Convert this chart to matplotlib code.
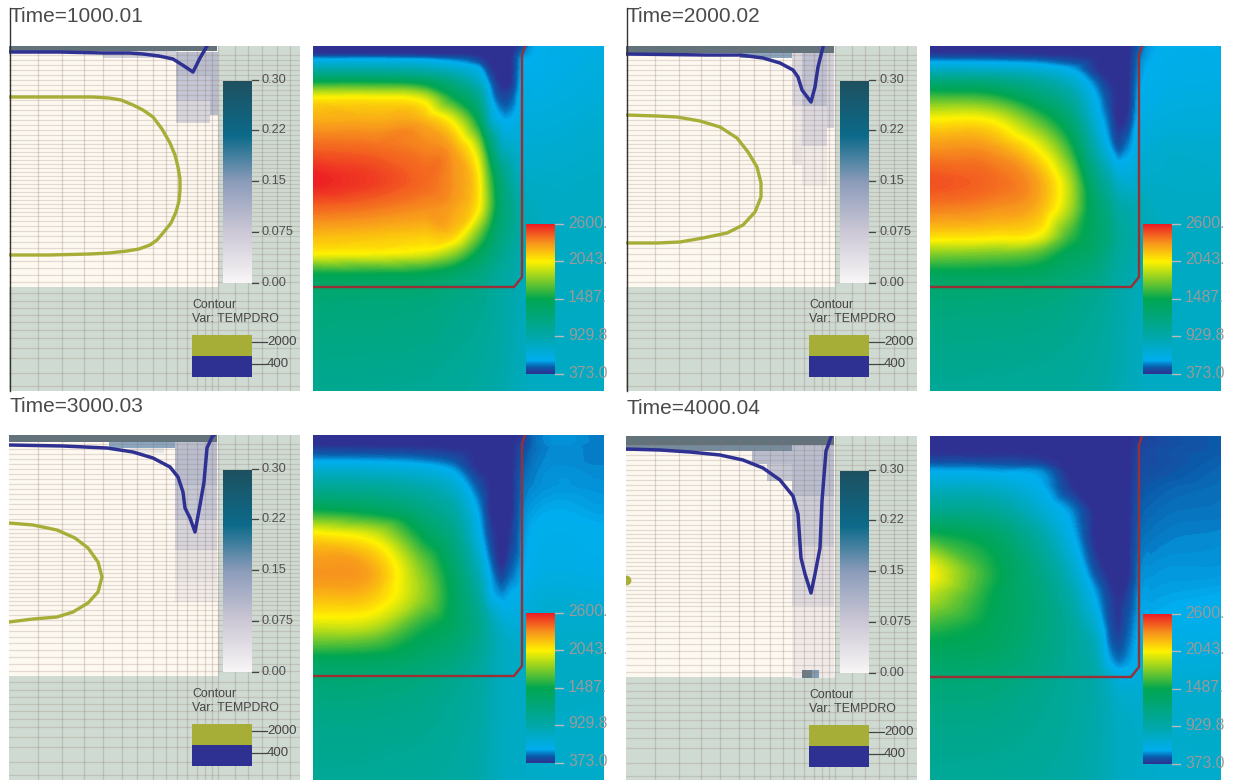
import matplotlib
matplotlib.use('Agg')
import matplotlib.pyplot as plt
import matplotlib.tri as mtri
from matplotlib.colors import LinearSegmentedColormap, Normalize
from matplotlib.patches import Rectangle
import numpy as np

plt.rcParams['font.family'] = ['Liberation Sans', 'DejaVu Sans']

W, H = 1234, 780

# 网格位置
temp_x = [0, 60, 110, 140, 165, 178, 188, 198, 210, 222, 291]
temp_y = [0, 8, 14, 24, 36, 52, 75, 100, 135, 160, 190, 207, 228, 245, 290, 345]

# one list per temp_x column, top to bottom
temp_1000 = [
    [373, 400, 600, 950, 1487, 2043, 2250, 2420, 2590, 2440, 2200, 2043, 1487, 1300, 1180, 1080],
    [373, 400, 600, 950, 1487, 2043, 2250, 2400, 2520, 2400, 2180, 2030, 1480, 1290, 1170, 1070],
    [373, 390, 580, 900, 1400, 1950, 2230, 2350, 2420, 2340, 2150, 1980, 1450, 1270, 1150, 1050],
    [373, 385, 520, 780, 1150, 1500, 2000, 2250, 2320, 2280, 2130, 1800, 1350, 1200, 1100, 1020],
    [373, 375, 430, 620, 800, 1100, 1450, 1850, 2080, 2060, 1700, 1450, 1200, 1130, 1050, 980],
    [373, 373, 373, 400, 480, 590, 780, 1250, 1600, 1650, 1400, 1250, 1100, 1050, 1000, 950],
    [373, 373, 373, 373, 373, 440, 610, 850, 1250, 1300, 1200, 1120, 1000, 970, 950, 920],
    [373, 373, 373, 373, 385, 460, 590, 760, 1000, 1120, 1080, 1000, 950, 930, 900, 880],
    [450, 520, 570, 590, 610, 640, 680, 720, 800, 880, 900, 880, 860, 850, 840, 830],
    [570, 580, 590, 600, 620, 640, 680, 720, 780, 820, 830, 830, 830, 830, 820, 810],
    [640, 650, 660, 670, 680, 700, 730, 760, 790, 810, 810, 810, 810, 810, 800, 790],
]
temp_2000 = [
    [373, 400, 520, 800, 1250, 1650, 2060, 2300, 2470, 2380, 2100, 1780, 1430, 1290, 1150, 1050],
    [373, 395, 510, 780, 1200, 1600, 2040, 2280, 2420, 2340, 2080, 1750, 1420, 1280, 1140, 1040],
    [373, 385, 480, 700, 1000, 1280, 1650, 1980, 2250, 2220, 2000, 1650, 1380, 1250, 1120, 1020],
    [373, 380, 430, 590, 780, 1000, 1280, 1550, 1850, 1850, 1600, 1420, 1280, 1180, 1080, 1000],
    [373, 373, 385, 400, 500, 600, 700, 880, 1200, 1330, 1350, 1300, 1180, 1100, 1020, 970],
    [373, 373, 373, 373, 390, 440, 500, 600, 950, 1150, 1220, 1150, 1060, 1020, 970, 930],
    [373, 373, 373, 373, 373, 373, 373, 450, 760, 950, 1050, 1020, 970, 940, 920, 890],
    [373, 373, 373, 373, 373, 373, 410, 520, 720, 900, 980, 960, 920, 900, 880, 860],
    [480, 500, 520, 540, 560, 590, 620, 660, 760, 860, 880, 870, 860, 850, 830, 820],
    [560, 570, 580, 590, 600, 620, 660, 720, 770, 820, 830, 830, 830, 820, 810, 800],
    [600, 610, 620, 630, 640, 660, 690, 730, 770, 790, 800, 800, 800, 790, 780, 780],
]
temp_3000 = [
    [373, 373, 420, 540, 760, 1050, 1500, 2080, 2320, 2220, 1950, 1700, 1380, 1270, 1130, 1050],
    [373, 373, 410, 530, 740, 1020, 1400, 1950, 2250, 2170, 1900, 1650, 1370, 1260, 1120, 1040],
    [373, 373, 400, 500, 680, 900, 1180, 1450, 1750, 1800, 1550, 1420, 1280, 1190, 1090, 1010],
    [373, 373, 385, 450, 570, 750, 960, 1150, 1350, 1420, 1380, 1300, 1180, 1100, 1030, 980],
    [373, 373, 373, 373, 390, 460, 560, 640, 850, 1000, 1130, 1100, 1030, 990, 960, 930],
    [373, 373, 373, 373, 373, 373, 373, 420, 530, 620, 900, 930, 900, 890, 880, 860],
    [373, 373, 373, 373, 373, 373, 373, 373, 400, 540, 760, 820, 830, 830, 830, 820],
    [373, 373, 373, 373, 373, 373, 373, 400, 480, 580, 700, 770, 800, 810, 810, 800],
    [400, 420, 440, 460, 480, 500, 520, 540, 570, 620, 710, 750, 780, 790, 790, 780],
    [500, 500, 500, 510, 520, 530, 560, 590, 620, 680, 740, 760, 780, 790, 780, 770],
    [520, 520, 520, 520, 530, 540, 560, 590, 620, 680, 750, 780, 790, 790, 770, 760],
]
temp_4000 = [
    [373, 373, 373, 430, 590, 800, 1100, 1560, 2040, 1880, 1600, 1470, 1340, 1260, 1130, 1040],
    [373, 373, 373, 420, 570, 780, 1060, 1380, 1550, 1500, 1440, 1400, 1310, 1240, 1120, 1030],
    [373, 373, 373, 400, 540, 600, 740, 960, 1150, 1210, 1220, 1200, 1170, 1120, 1060, 1000],
    [373, 373, 373, 373, 373, 400, 540, 620, 800, 930, 1030, 1040, 1040, 1020, 1000, 960],
    [373, 373, 373, 373, 373, 373, 373, 373, 450, 570, 730, 830, 900, 920, 920, 900],
    [373, 373, 373, 373, 373, 373, 373, 373, 373, 430, 480, 520, 620, 800, 860, 850],
    [373, 373, 373, 373, 373, 373, 373, 373, 373, 380, 400, 440, 530, 700, 810, 810],
    [373, 373, 373, 373, 373, 373, 373, 373, 373, 420, 470, 500, 560, 680, 790, 790],
    [400, 410, 420, 430, 440, 450, 470, 490, 520, 550, 580, 600, 640, 700, 770, 770],
    [430, 430, 440, 440, 450, 470, 490, 510, 540, 560, 590, 620, 660, 710, 760, 760],
    [470, 470, 470, 480, 490, 500, 510, 530, 550, 580, 620, 650, 690, 730, 760, 750],
]

# contour lines, TEMPDRO = 400 and 2000
blue_1000 = [(0, 6), (50, 6), (94, 7), (120, 7), (134, 8), (150, 10), (164, 13), (175, 20), (184, 26), (191, 12), (198, 0)]
blue_2000 = [(0, 8), (81, 9), (114, 9), (137, 12), (154, 17), (167, 24), (172, 31), (176, 44), (185, 56), (189, 41), (192, 21), (197, 1)]
blue_3000 = [(0, 10), (54, 11), (98, 13), (124, 17), (144, 23), (161, 32), (169, 42), (174, 57), (176, 73), (181, 83), (186, 97),
             (191, 70), (195, 47), (198, 13), (203, 2), (205, 0)]
blue_4000 = [(0, 13), (34, 14), (64, 16), (94, 19), (117, 24), (137, 32), (154, 44), (167, 60), (172, 78), (175, 122), (179, 138),
             (185, 157), (189, 138), (194, 112), (196, 65), (200, 15), (205, 1)]

olive_1000 = [(0, 51), (40, 51), (84, 51), (100, 52), (112, 54), (124, 59), (134, 64), (144, 71), (153, 83), (161, 97), (166, 109),
              (169, 121), (171, 133), (171, 144), (170, 155), (167, 166), (162, 177), (154, 187), (148, 194), (141, 199),
              (130, 203), (118, 205), (100, 207), (81, 208), (40, 209), (0, 209)]
olive_2000 = [(0, 69), (31, 70), (51, 71), (74, 75), (94, 81), (111, 92), (122, 106), (131, 121), (135, 137), (135, 151), (129, 166),
              (117, 179), (101, 187), (77, 192), (54, 196), (31, 197), (0, 197)]
olive_3000 = [(0, 88), (24, 90), (48, 95), (66, 103), (79, 113), (89, 127), (93, 142), (89, 157), (79, 168), (64, 177), (48, 182),
              (24, 184), (0, 187)]
olive_4000 = [(0, 144)]

# volume fraction cells: x0, x1, y0, y1, value
cells_1000 = [(0, 208, 0, 5, 0.30), (94, 167, 5, 12, 0.08), (167, 201, 6, 30, 0.12), (167, 201, 30, 55, 0.10),
              (167, 201, 55, 77, 0.075), (201, 209, 6, 69, 0.12)]
cells_2000 = [(0, 208, 0, 7, 0.30), (114, 166, 7, 12, 0.20), (166, 176, 7, 60, 0.07), (166, 176, 60, 119, 0.04),
              (176, 201, 7, 60, 0.11), (176, 201, 60, 100, 0.07), (176, 201, 100, 140, 0.03), (201, 208, 7, 82, 0.08)]
cells_3000 = [(0, 208, 0, 7, 0.30), (100, 166, 7, 13, 0.20), (121, 155, 13, 18, 0.05), (166, 208, 7, 50, 0.12),
              (166, 208, 50, 85, 0.10), (166, 208, 85, 115, 0.075), (166, 208, 115, 145, 0.05), (166, 208, 145, 167, 0.03)]
cells_4000 = [(0, 208, 0, 9, 0.30), (0, 166, 9, 15, 0.25), (126, 166, 15, 28, 0.12), (141, 166, 28, 45, 0.10),
              (166, 208, 9, 60, 0.12), (166, 208, 60, 110, 0.09), (166, 208, 110, 170, 0.065), (166, 208, 170, 242, 0.035),
              (176, 186, 234, 242, 0.28), (186, 193, 234, 242, 0.22)]

times = ['Time=1000.01', 'Time=2000.02', 'Time=3000.03', 'Time=4000.04']
temps = [temp_1000, temp_2000, temp_3000, temp_4000]
blues = [blue_1000, blue_2000, blue_3000, blue_4000]
olives = [olive_1000, olive_2000, olive_3000, olive_4000]
cells = [cells_1000, cells_2000, cells_3000, cells_4000]
left_x = [9, 626, 9, 626]
right_x = [313, 930, 313, 930]
top_y = [46, 46, 435, 436]
title_y = [-29, -30, -29, -28]

# mesh lines
grid_x = [29, 53, 75, 94, 113, 128, 144, 157, 168, 178, 188, 196, 203, 209, 226, 239, 253, 268, 281]
grid_y = [9, 14, 19, 24, 29, 34, 39, 44, 49, 54, 59, 64, 69, 74, 79, 84, 89, 94, 98, 102, 106, 110, 114, 118,
          122, 126, 130, 134, 138, 142, 146, 150, 154, 158, 162, 166, 170, 175, 180, 185, 190, 196, 202, 208,
          215, 222, 229, 236, 247, 255, 262, 269, 276, 284, 292, 302, 312, 327, 340]

# wall outline in the temperature plots
wall = [(212, 0), (209, 9), (209, 231), (201, 241), (0, 241)]

vol_labels = ['0.30', '0.22', '0.15', '0.075', '0.00']
vol_tick_y = [34, 84, 135, 186, 237]
temp_ticks = ['2600.', '2043.', '1487.', '929.8', '373.0']
temp_tick_y = [178, 215, 253, 290, 328]

temp_cmap = LinearSegmentedColormap.from_list('temp', [
    (0.0, '#2e3192'), (0.045, '#0a5cab'), (0.09, '#00aeef'), (0.25, '#00a8a8'), (0.5, '#00a651'),
    (0.75, '#fff200'), (0.875, '#f7941d'), (1.0, '#ed1c24')])
vol_cmap = LinearSegmentedColormap.from_list('vol', [
    (0.0, '#f8f6f6'), (0.25, '#cdc8d6'), (0.5, '#8c9cba'), (0.73, '#0c6a8a'), (1.0, '#1e5160')])
cell_cmap = LinearSegmentedColormap.from_list('cell', [
    (0.0, '#fdf8f0'), (0.17, '#e9e5e6'), (0.33, '#c5c7d5'), (0.5, '#a9b0c6'), (0.67, '#8aa6c0'), (1.0, '#63737c')])


def panel_axes(x, y):
    ax = fig.add_axes([x / W, 1 - (y + 345) / H, 291 / W, 345 / H])
    ax.set_axis_off()
    return ax


def finish(ax):
    ax.set_xlim(0, 291)
    ax.set_ylim(345, 0)


fig = plt.figure(figsize=(W / 100, H / 100), dpi=100)
levels = np.linspace(373, 2600, 220)
grid_xx, grid_yy = np.meshgrid(temp_x, temp_y)
tri = mtri.Triangulation(grid_xx.ravel(), grid_yy.ravel())
refiner = mtri.UniformTriRefiner(tri)

for i in range(4):
    # 左图
    ax = panel_axes(left_x[i], top_y[i])
    ax.add_patch(Rectangle((0, 0), 291, 345, fc='#cfdad2', ec='none', zorder=1))
    ax.add_patch(Rectangle((0, 0), 209, 241, fc='#fdf8f0', ec='none', zorder=1.1))
    for x0, x1, y0, y1, val in cells[i]:
        ax.add_patch(Rectangle((x0, y0), x1 - x0, y1 - y0, fc=cell_cmap(val / 0.3), ec='none', zorder=1.2))
    for gx in grid_x:
        ax.plot([gx, gx], [0, 345], color='#8a6f62', lw=0.9, alpha=0.26, zorder=1.5)
    for gy in grid_y:
        ax.plot([0, 291], [gy, gy], color='#8a6f62', lw=0.9, alpha=0.22, zorder=1.5)

    if len(olives[i]) > 1:
        ax.plot(*zip(*olives[i]), color='#a7ae37', lw=2.4, zorder=3)
    else:
        ax.plot(*zip(*olives[i]), 'o', color='#a7ae37', ms=6, zorder=3)
    ax.plot(*zip(*blues[i]), color='#2e3192', lw=2.5, zorder=3)

    ax.imshow(np.linspace(1, 0, 256)[:, None], extent=(214, 243, 237, 35), aspect='auto',
              cmap=vol_cmap, zorder=4)
    for ty, lab in zip(vol_tick_y, vol_labels):
        ax.plot([243, 249], [ty, ty], color='#444444', lw=0.9, zorder=4)
        ax.text(253, ty, lab, fontsize=9.2, color='#505050', va='center', ha='left')

    ax.text(183, 259, 'Contour', fontsize=8.9, color='#454545', va='center')
    ax.text(183, 273, 'Var: TEMPDRO', fontsize=8.9, color='#454545', va='center')
    ax.add_patch(Rectangle((183, 289), 60, 21, fc='#a7ae37', ec='none', zorder=4))
    ax.add_patch(Rectangle((183, 310), 60, 21, fc='#2e3192', ec='none', zorder=4))
    for ty, lab in zip([296, 318], ['2000', '400']):
        ax.plot([243, 258], [ty, ty], color='#444444', lw=0.9, zorder=4)
        ax.text(258, ty, lab, fontsize=9.5, color='#454545', va='center', ha='left')

    ax.text(0.5, title_y[i], times[i], fontsize=15, color='#4a4a4a', va='center', ha='left')
    if i < 2:
        ax.plot([0.5, 0.5], [-38, 345], color='#333333', lw=1, clip_on=False, zorder=5)
    finish(ax)

    # 右图
    ax = panel_axes(right_x[i], top_y[i])
    field = np.array(temps[i]).T.ravel().astype(float)
    interp = mtri.CubicTriInterpolator(tri, field, kind='geom')
    tri_fine, field_fine = refiner.refine_field(field, triinterpolator=interp, subdiv=3)
    ax.tricontourf(tri_fine, field_fine, levels=levels, cmap=temp_cmap,
                   norm=Normalize(373, 2600), extend='both', antialiased=False, zorder=1)
    ax.plot(*zip(*wall), color='#9a2f35', lw=1.7, zorder=3)
    ax.imshow(np.linspace(1, 0, 256)[:, None], extent=(213, 242, 328, 178), aspect='auto',
              cmap=temp_cmap, zorder=4)
    for ty, lab in zip(temp_tick_y, temp_ticks):
        ax.plot([242, 250], [ty, ty], color='#b8b8b8', lw=1, zorder=4)
        ax.text(255, ty - 1, lab, fontsize=11.3, color='#9a9a9a', va='center', ha='left', zorder=5)
    finish(ax)

fig.savefig('out.png', dpi=100)
